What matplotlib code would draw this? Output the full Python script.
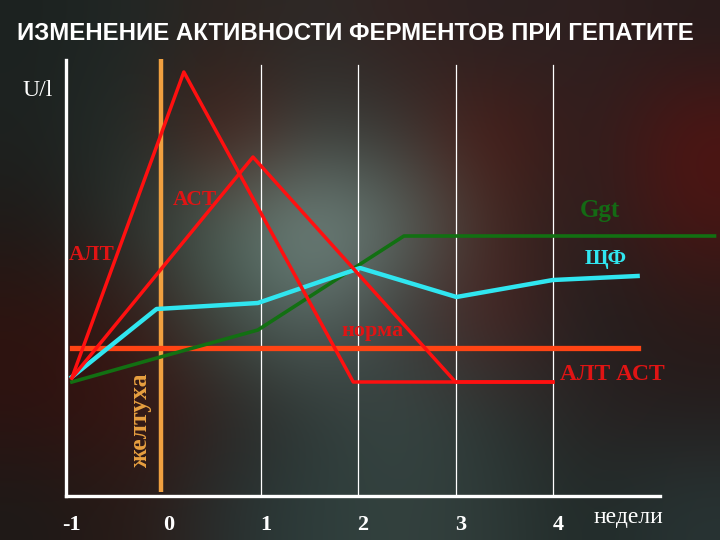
import numpy as np
import matplotlib
matplotlib.use("Agg")
import matplotlib.pyplot as plt
import matplotlib.colors as mcolors
from matplotlib.transforms import ScaledTranslation

# ---------------------------------------------------------------
# data (x = weeks, y = activity U/l, arbitrary units)
# ---------------------------------------------------------------
alt_x = [-0.94, 0.21, 1.95, 4.0]
alt_y = [11.8, 42.4, 11.4, 11.4]

ast_x = [-0.94, 0.92, 3.0, 4.0]
ast_y = [11.8, 33.9, 11.4, 11.4]

alp_x = [-0.94, -0.07, 0.97, 2.02, 3.01, 4.0, 4.87]
alp_y = [11.9, 18.7, 19.3, 22.8, 19.9, 21.6, 22.0]

ggt_x = [-0.94, -0.03, 0.97, 2.47, 5.66]
ggt_y = [11.4, 13.9, 16.6, 26.0, 26.0]

norm_x = [-0.94, 4.87]
norm_y = [14.8, 14.8]

jaundice_x = -0.02
week_ticks = [-1, 0, 1, 2, 3, 4]
week_labels = ["-1", "0", "1", "2", "3", "4"]
grid_weeks = [1, 2, 3, 4]

# blurred backdrop colours (rows top -> bottom)
bg_rows = [
    ["#1c2220", "#222826", "#2e2420", "#2c2a28", "#342220", "#2a2222", "#302020", "#281c1c"],
    ["#1e2220", "#25302c", "#521e16", "#3a4440", "#3a3430", "#521a14", "#2a2020", "#521412"],
    ["#1e1a18", "#2c3430", "#50685e", "#7e948e", "#5a6a64", "#42241e", "#2a2020", "#461614"],
    ["#2e1410", "#341a16", "#405048", "#5a6a66", "#3a3a38", "#502220", "#202020", "#2a1a18"],
    ["#2e1210", "#3e1410", "#2a2422", "#303a38", "#3a4846", "#2a3432", "#2a2222", "#241c1c"],
    ["#1e1a18", "#2a1a16", "#283030", "#2e3e3c", "#34423f", "#2e3a38", "#202a28", "#283434"],
]

serif = "Liberation Serif"
sans = "Liberation Sans"

fig = plt.figure(figsize=(7.2, 5.4), dpi=100)

# background
bg = fig.add_axes([0, 0, 1, 1], zorder=0)
img = np.array([[mcolors.to_rgb(c) for c in row] for row in bg_rows])
bg.imshow(img, extent=[0, 1, 0, 1], aspect="auto", interpolation="bicubic")
bg.set_axis_off()

# main axes: pixels 66..660 horizontally, 60..496 vertically
ax = fig.add_axes([66 / 720, (540 - 496) / 540, (660 - 66) / 720, (496 - 60) / 540], zorder=1)
ax.patch.set_alpha(0)
ax.set_xlim(-1, 5.1)
ax.set_ylim(0, 43.6)

for xv in grid_weeks:
    ax.plot([xv, xv], [0, 43.1], color="white", lw=0.9, zorder=1)

ax.plot([jaundice_x, jaundice_x], [0.4, 43.7], color="#f0a040", lw=3.2,
        zorder=2, clip_on=False, solid_capstyle="butt")

ax.plot(norm_x, norm_y, color="#ff4414", lw=3.8, zorder=3)
ax.plot(ggt_x, ggt_y, color="#127012", lw=2.6, zorder=4, clip_on=False)
ax.plot(alp_x, alp_y, color="#30e6f0", lw=3.2, zorder=5)
ax.plot(alt_x, alt_y, color="#ff1010", lw=2.5, zorder=6, clip_on=False)
ax.plot(ast_x, ast_y, color="#ff1010", lw=2.5, zorder=6)

for s in ["top", "right"]:
    ax.spines[s].set_visible(False)
for s in ["left", "bottom"]:
    ax.spines[s].set_color("white")
    ax.spines[s].set_linewidth(2.4)

ax.set_yticks([])
ax.set_xticks(week_ticks)
ax.set_xticklabels(week_labels, family=serif, fontsize=16, fontweight="bold", color="white")
ax.tick_params(axis="x", length=0, pad=14)
for lab in ax.get_xticklabels():
    lab.set_transform(lab.get_transform() + ScaledTranslation(0.05, 0, fig.dpi_scale_trans))

# labels in pixel space of the figure
def ftext(px, py, s, **kw):
    fig.text(px / 720, 1 - py / 540, s, ha="center", va="center", **kw)

ftext(355, 33, "ИЗМЕНЕНИЕ АКТИВНОСТИ ФЕРМЕНТОВ ПРИ ГЕПАТИТЕ",
      family=sans, fontsize=17.3, fontweight="bold", color="white")
ftext(38, 90, "U/l", family=serif, fontsize=17, color="white")
ftext(628, 517, "недели", family=serif, fontsize=17, color="white")

ftext(195, 200, "АСТ", family=serif, fontsize=15.5, fontweight="bold", color="#e01414")
ftext(92, 255, "АЛТ", family=serif, fontsize=15.5, fontweight="bold", color="#e01414")
ftext(600, 210, "Ggt", family=serif, fontsize=18, fontweight="bold", color="#146a14")
ftext(606, 259, "ЩФ", family=serif, fontsize=15.5, fontweight="bold", color="#30e6f0")
ftext(372, 331, "норма", family=serif, fontsize=16, fontweight="bold", color="#e01414")
ftext(612, 374, "АЛТ АСТ", family=serif, fontsize=17, fontweight="bold", color="#e01414")
ftext(140, 420, "желтуха", family=serif, fontsize=18.5, fontweight="bold",
      color="#e8a040", rotation=90)

fig.savefig("out.png", dpi=100)
